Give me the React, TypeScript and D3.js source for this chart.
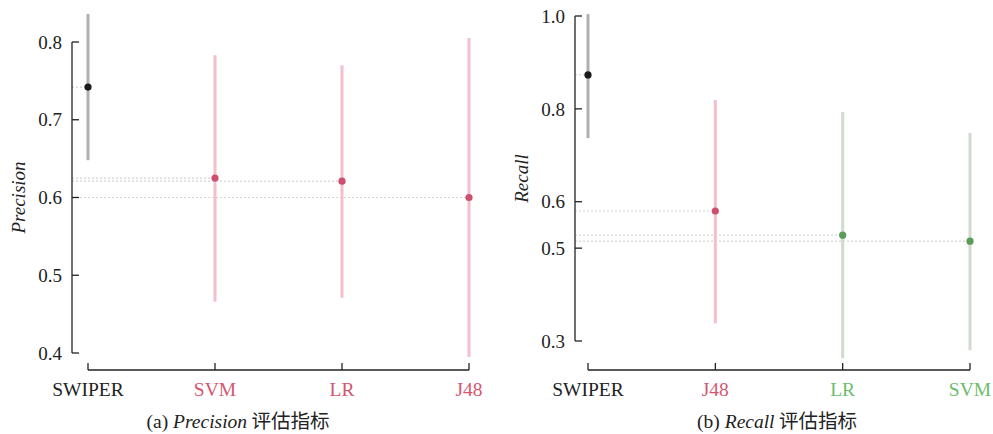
import React from "react";
import * as d3 from "d3";

const precCategories = ["SWIPER", "SVM", "LR", "J48"];
const precMean = [0.742, 0.625, 0.621, 0.6];
const precLow = [0.648, 0.466, 0.471, 0.395];
const precHigh = [0.836, 0.783, 0.77, 0.805];
const precGroup = ["base", "pink", "pink", "pink"];
const precTicks = [0.4, 0.5, 0.6, 0.7, 0.8];

const recCategories = ["SWIPER", "J48", "LR", "SVM"];
const recMean = [0.873, 0.58, 0.528, 0.515];
const recLow = [0.737, 0.338, 0.263, 0.28];
const recHigh = [1.004, 0.819, 0.793, 0.748];
const recGroup = ["base", "pink", "green", "green"];
const recTicks = [0.3, 0.5, 0.6, 0.8, 1.0];

const palette: Record<string, { point: string; bar: string; label: string }> = {
  base: { point: "#1a1a1a", bar: "#b0b0b0", label: "#222222" },
  pink: { point: "#cc4f6c", bar: "#f2bfcb", label: "#d4566f" },
  green: { point: "#5a9d5a", bar: "#d0dbd0", label: "#6cbd6b" },
};

const FONT = "'Liberation Serif', 'Times New Roman', serif";
const CJK = "'Noto Sans CJK SC', 'Liberation Serif', serif";

type PanelProps = {
  cats: string[];
  mean: number[];
  low: number[];
  high: number[];
  group: string[];
  ticks: number[];
  domain: [number, number];
  yRange: [number, number];
  axisX: number;
  xRange: [number, number];
  ylabel: string;
  ylabelX: number;
  captionPrefix: string;
  captionItalic: string;
  captionX: number;
};

function Panel(p: PanelProps) {
  const y = d3.scaleLinear().domain(p.domain).range(p.yRange);
  const x = d3.scalePoint<string>().domain(p.cats).range(p.xRange);
  const xAxisY = 370;
  const tickLen = 7;
  const fmt = d3.format(".1f");
  const yMid = (p.yRange[0] + p.yRange[1]) / 2;
  return (
    <g>
      {p.cats.map((c, i) => (
        <line
          key={"d" + c}
          x1={p.axisX}
          x2={x(c)!}
          y1={y(p.mean[i])}
          y2={y(p.mean[i])}
          stroke="#d4d4d4"
          strokeWidth={1.2}
          strokeDasharray="2,2"
        />
      ))}
      {p.cats.map((c, i) => (
        <line
          key={"e" + c}
          x1={x(c)!}
          x2={x(c)!}
          y1={y(p.low[i])}
          y2={y(p.high[i])}
          stroke={palette[p.group[i]].bar}
          strokeWidth={3}
        />
      ))}
      {p.cats.map((c, i) => (
        <circle
          key={"p" + c}
          cx={x(c)!}
          cy={y(p.mean[i])}
          r={3.6}
          fill={palette[p.group[i]].point}
        />
      ))}
      <line
        x1={p.axisX}
        x2={p.axisX}
        y1={p.yRange[1]}
        y2={p.yRange[0]}
        stroke="#222"
        strokeWidth={1.3}
      />
      {p.ticks.map((t) => (
        <g key={"yt" + t}>
          <line
            x1={p.axisX}
            x2={p.axisX + tickLen}
            y1={y(t)}
            y2={y(t)}
            stroke="#222"
            strokeWidth={1.3}
          />
          <text
            x={p.axisX - 10}
            y={y(t)}
            dy="0.35em"
            textAnchor="end"
            fontFamily={FONT}
            fontSize={19}
            fill="#222"
          >
            {fmt(t)}
          </text>
        </g>
      ))}
      <text
        transform={`translate(${p.ylabelX},${yMid}) rotate(-90)`}
        textAnchor="middle"
        fontFamily={FONT}
        fontStyle="italic"
        fontSize={19}
        fill="#222"
      >
        {p.ylabel}
      </text>
      <line
        x1={p.xRange[0]}
        x2={p.xRange[1]}
        y1={xAxisY}
        y2={xAxisY}
        stroke="#222"
        strokeWidth={1.3}
      />
      {p.cats.map((c, i) => (
        <g key={"xt" + c}>
          <line
            x1={x(c)!}
            x2={x(c)!}
            y1={xAxisY}
            y2={xAxisY - tickLen}
            stroke="#222"
            strokeWidth={1.3}
          />
          <text
            x={x(c)!}
            y={396}
            textAnchor="middle"
            fontFamily={FONT}
            fontSize={19.5}
            fill={palette[p.group[i]].label}
          >
            {c}
          </text>
        </g>
      ))}
      <text
        x={p.captionX}
        y={428}
        textAnchor="middle"
        fontFamily={FONT}
        fontSize={19.5}
        fill="#222"
      >
        <tspan>{p.captionPrefix} </tspan>
        <tspan fontStyle="italic">{p.captionItalic}</tspan>
        <tspan fontFamily={CJK}> 评估指标</tspan>
      </text>
    </g>
  );
}

export default function App() {
  return (
    <svg
      width={993}
      height={434}
      style={{ position: "absolute", left: 0, top: 0, background: "#fff" }}
    >
      <Panel
        cats={precCategories}
        mean={precMean}
        low={precLow}
        high={precHigh}
        group={precGroup}
        ticks={precTicks}
        domain={[0.4, 0.8]}
        yRange={[353, 42]}
        axisX={72}
        xRange={[88, 469]}
        ylabel="Precision"
        ylabelX={25}
        captionPrefix="(a)"
        captionItalic="Precision"
        captionX={238}
      />
      <Panel
        cats={recCategories}
        mean={recMean}
        low={recLow}
        high={recHigh}
        group={recGroup}
        ticks={recTicks}
        domain={[0.3, 1.0]}
        yRange={[341, 16]}
        axisX={575}
        xRange={[588, 970]}
        ylabel="Recall"
        ylabelX={528}
        captionPrefix="(b)"
        captionItalic="Recall"
        captionX={777}
      />
    </svg>
  );
}
